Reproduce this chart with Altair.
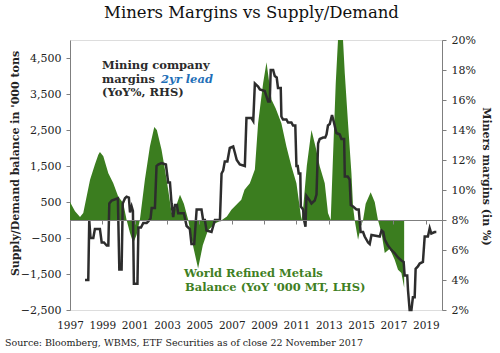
import altair as alt
import pandas as pd

# ---- data ----
bal_year = [1997.00, 1997.31, 1997.62, 1997.82, 1998.24, 1998.54, 1998.75, 1998.85, 1999.06, 1999.37,
            1999.67, 1999.98, 2000.29, 2000.50, 2000.71, 2000.91, 2001.12, 2001.32, 2001.63, 2001.94,
            2002.21, 2002.37, 2002.66, 2002.87, 2003.07, 2003.28, 2003.49, 2003.80, 2004.04, 2004.31,
            2004.60, 2004.92, 2005.21, 2005.52, 2005.96, 2006.39, 2006.70, 2006.98, 2007.24, 2007.59,
            2007.79, 2008.12, 2008.43, 2008.63, 2008.94, 2009.15, 2009.46, 2009.72, 2010.07, 2010.38,
            2010.69, 2011.00, 2011.31, 2011.41, 2011.64, 2011.93, 2012.20, 2012.44, 2012.75, 2012.95,
            2013.12, 2013.24, 2013.43, 2013.57, 2013.88, 2013.99, 2014.19, 2014.40, 2014.50, 2014.60,
            2014.81, 2014.97, 2015.12, 2015.28, 2015.59, 2015.84, 2016.04, 2016.26, 2016.46, 2016.77,
            2017.07, 2017.28, 2017.49, 2017.66]
bal_value = [500, 240, 80, 195, 1120, 1540, 1810, 1890, 1770, 1300,
             1030, 655, 470, 0, -360, -640, -410, 0, 1120, 2040,
             2580, 2500, 1950, 1400, 840, 200, 300, 700, 450, 0,
             -700, -1350, -700, -300, -100, 0, 100, 285, 400, 560,
             840, 1020, 1400, 2690, 3800, 4380, 3340, 3100, 2690, 2040,
             1490, 1020, 0, 300, 1500, 2500, 2000, 1490, 1020, 195,
             0, 1500, 3800, 5000, 5000, 4070, 2690, 1300, 375, 0,
             -550, -200, 0, 450, 770, 500, 0, -360, -915, -800,
             -1100, -1380, -1470, -1880]

mar_year = [1997.93, 1998.13, 1998.19, 1998.27, 1998.44, 1998.54, 1998.85, 1998.96, 1999.10, 1999.27,
            1999.37, 1999.43, 1999.58, 1999.96, 2000.05, 2000.19, 2000.26, 2000.40, 2000.50, 2000.64,
            2000.71, 2000.81, 2000.89, 2000.95, 2001.17, 2001.23, 2001.39, 2001.53, 2001.74, 2001.84,
            2001.98, 2002.05, 2002.25, 2002.35, 2002.45, 2002.66, 2002.93, 2003.07, 2003.18, 2003.28,
            2003.38, 2003.49, 2003.61, 2003.69, 2004.04, 2004.21, 2004.41, 2004.51, 2004.68, 2004.83,
            2005.13, 2005.23, 2005.34, 2005.44, 2005.75, 2005.96, 2006.27, 2006.37, 2006.47, 2006.57,
            2006.73, 2006.88, 2007.09, 2007.19, 2007.31, 2007.50, 2007.81, 2007.91, 2008.22, 2008.33,
            2008.43, 2008.63, 2008.74, 2009.04, 2009.25, 2009.35, 2009.41, 2009.56, 2009.66, 2009.78,
            2009.86, 2010.03, 2010.07, 2010.17, 2010.38, 2010.48, 2010.69, 2010.79, 2010.93, 2011.00,
            2011.08, 2011.14, 2011.24, 2011.27, 2011.41, 2011.47, 2011.56, 2011.62, 2011.82, 2011.93,
            2012.13, 2012.24, 2012.34, 2012.44, 2012.65, 2012.78, 2012.86, 2012.95, 2013.06, 2013.20,
            2013.32, 2013.47, 2013.68, 2013.78, 2013.95, 2013.99, 2014.17, 2014.29, 2014.36, 2014.50,
            2014.71, 2014.85, 2014.97, 2015.12, 2015.22, 2015.43, 2015.53, 2015.64, 2016.15, 2016.26,
            2016.37, 2016.46, 2016.66, 2016.87, 2017.07, 2017.28, 2017.49, 2017.63, 2017.69, 2017.85,
            2017.90, 2018.00, 2018.11, 2018.20, 2018.31, 2018.37, 2018.51, 2018.62, 2018.82, 2018.93,
            2019.13, 2019.24, 2019.34, 2019.55, 2019.65]
mar_pct = [4.0, 4.0, 8.0, 6.8, 6.8, 7.4, 7.4, 6.5, 6.5, 6.3,
           6.3, 9.1, 9.3, 9.45, 4.7, 4.7, 9.1, 9.45, 9.56, 9.5,
           8.5, 8.9, 8.6, 3.75, 3.75, 7.5, 7.5, 7.8, 7.8, 7.9,
           8.1, 8.8, 8.8, 11.6, 11.7, 11.8, 11.7, 10.5, 10.5, 9.1,
           8.2, 9.0, 9.0, 8.45, 8.45, 7.6, 7.4, 6.4, 6.4, 8.7,
           8.7, 8.0, 8.0, 7.3, 7.2, 8.0, 8.0, 11.1, 11.3, 11.9,
           11.9, 12.8, 12.9, 12.5, 12.0, 11.7, 11.6, 14.8, 14.8, 14.6,
           17.1, 16.9, 16.7, 16.6, 15.9, 15.9, 18.0, 18.0, 17.6, 17.5,
           16.8, 16.8, 14.9, 14.7, 14.7, 14.5, 14.5, 14.3, 14.3, 11.6,
           11.6, 11.1, 11.1, 8.9, 8.7, 8.0, 7.55, 9.6, 9.3, 9.1,
           9.3, 9.7, 13.1, 13.4, 13.5, 13.5, 13.7, 14.3, 14.4, 15.0,
           14.5, 13.8, 13.7, 13.4, 13.4, 10.9, 10.9, 10.7, 9.0, 8.9,
           8.7, 8.7, 7.2, 7.2, 6.9, 6.5, 6.4, 7.0, 6.9, 7.3,
           7.2, 6.7, 6.3, 6.0, 5.8, 5.5, 5.3, 5.2, 4.3, 4.3,
           3.3, 2.0, 2.0, 2.85, 2.85, 4.75, 4.9, 5.1, 5.2, 6.9,
           6.9, 7.45, 7.1, 7.2, 7.2]

x_ticks = [1997, 1999, 2001, 2003, 2005, 2007, 2009, 2011, 2013, 2015, 2017, 2019]
left_ticks = [-2500, -1500, -500, 500, 1500, 2500, 3500, 4500]
right_ticks = [2, 4, 6, 8, 10, 12, 14, 16, 18, 20]

FONT = "DejaVu Serif"
GREEN = "#3b7d1f"
AXIS_GREY = "#7f7f7f"

bal_df = pd.DataFrame({"year": bal_year, "balance": bal_value})
mar_df = pd.DataFrame({"year": mar_year, "margin": mar_pct})

x_scale = alt.Scale(domain=[1997, 2020], nice=False, zero=False)
x_axis = alt.Axis(values=x_ticks, format="d", title=None, offset=-90,
                  domainColor=AXIS_GREY, tickColor=AXIS_GREY, tickSize=4,
                  labelPadding=96, labelFont=FONT, labelFontSize=10.5,
                  labelColor="#222222", grid=False, zindex=1,
                  labelOverlap=False, labelFlush=False, labelBound=False)

area = alt.Chart(bal_df).mark_area(color=GREEN, opacity=1).encode(
    x=alt.X("year:Q", scale=x_scale, axis=x_axis),
    y=alt.Y("balance:Q", scale=alt.Scale(domain=[-2500, 5000], nice=False, zero=False),
            axis=alt.Axis(orient="left", values=left_ticks, format=",d",
                          title="Supply/Demand balance in '000 tons",
                          titleFont=FONT, titleFontSize=11, titleFontWeight="bold",
                          titleColor="#222222", titleX=-55, titleY=123, titleAngle=-90,
                          titleAlign="center", titleBaseline="middle",
                          domainColor=AXIS_GREY, tickColor=AXIS_GREY, tickSize=4,
                          labelPadding=5, labelFont=FONT, labelFontSize=11,
                          labelColor="#222222", grid=False)),
    y2=alt.datum(0),
)

line = alt.Chart(mar_df).mark_line(color="#2d2d2d", strokeWidth=2.5).encode(
    x=alt.X("year:Q", scale=x_scale, axis=x_axis),
    y=alt.Y("margin:Q", scale=alt.Scale(domain=[2, 20], nice=False, zero=False),
            axis=alt.Axis(orient="right", values=right_ticks,
                          labelExpr="datum.value + '%'",
                          title="Miners margins (in %)",
                          titleFont=FONT, titleFontSize=11, titleFontWeight="bold",
                          titleColor="#222222", titleX=43, titleY=136, titleAngle=90,
                          titleAlign="center", titleBaseline="middle",
                          domainColor=AXIS_GREY, tickColor=AXIS_GREY, tickSize=4,
                          labelPadding=5, labelFont=FONT, labelFontSize=11,
                          labelColor="#222222", grid=False)),
)

blank = alt.Data(values=[{}])


def label(text, x, y, color, size=11.5, weight="bold", style="normal", align="left"):
    return alt.Chart(blank).mark_text(
        text=text, font=FONT, fontSize=size, fontWeight=weight, fontStyle=style,
        color=color, align=align, baseline="middle"
    ).encode(x=alt.value(x), y=alt.value(y))


notes = [
    label("Miners Margins vs Supply/Demand", 181.5, -27, "#111111", size=16.5,
          weight="normal", align="center"),
    label("Mining company", 32, 26, "#2b2b2b"),
    label("margins", 32, 40, "#2b2b2b"),
    label("2yr lead", 91, 40, "#1f6fb8", style="italic"),
    label("(YoY%, RHS)", 32, 53, "#2b2b2b"),
    label("World Refined Metals", 114, 234, "#3f7f24"),
    label("Balance (YoY '000 MT, LHS)", 115, 248, "#3f7f24"),
    label("Source: Bloomberg, WBMS, ETF Securities as of close 22 November 2017",
          -65, 303, "#222222", size=9.5, weight="normal"),
]

chart = alt.layer(area, line, *notes).resolve_scale(y="independent").properties(
    width=372, height=270,
    autosize=alt.AutoSizeParams(type="none"),
    padding={"left": 70, "top": 40, "right": 58, "bottom": 43},
).configure_view(strokeWidth=0).configure(background="white")

chart.save("out.html", embed_options={"renderer": "svg", "actions": False})
